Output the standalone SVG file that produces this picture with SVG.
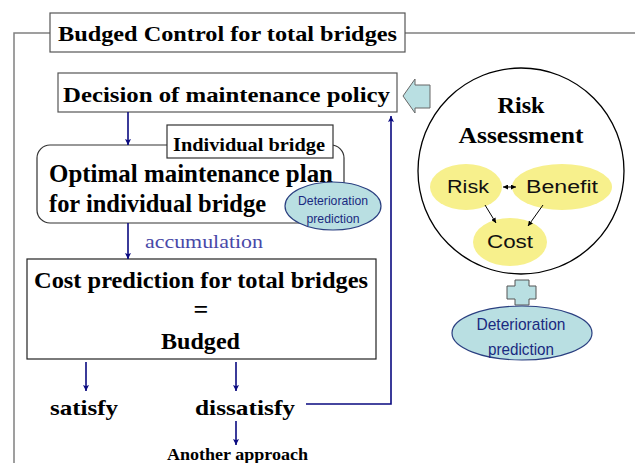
<svg xmlns="http://www.w3.org/2000/svg" width="635" height="463" viewBox="0 0 635 463">
<defs>
<style>
.sf{font-family:"Liberation Serif","DejaVu Serif",serif;font-weight:bold;fill:#000}
.ss{font-family:"Liberation Sans",Arial,sans-serif}
.box{fill:#fff;stroke:#555;stroke-width:1.2}
.nav{stroke:#0a0a80;stroke-width:1.6;fill:none}
.blk{stroke:#000;stroke-width:1;fill:none}
.yel{fill:#f7f08c;stroke:none}
.det{fill:#b9dfe2;stroke:#2a3f80;stroke-width:1.2}
</style>
<marker id="ah" viewBox="0 0 10 10" refX="10" refY="5" markerWidth="6" markerHeight="6" orient="auto" markerUnits="userSpaceOnUse">
<path d="M0,0 L10,5 L0,10 L2,5 z" fill="#0a0a80"/>
</marker>
<marker id="bh" viewBox="0 0 10 10" refX="10" refY="5" markerWidth="5" markerHeight="5" orient="auto-start-reverse" markerUnits="userSpaceOnUse">
<path d="M0,0 L10,5 L0,10 z" fill="#000"/>
</marker>
</defs>
<rect width="635" height="463" fill="#fff"/>

<g id="frame">
<path d="M14,463 L14,33 L50,33 M405,33 L635,33" stroke="#808080" stroke-width="1.5" fill="none"/>
</g>

<g id="title">
<rect class="box" x="50" y="13" width="355" height="39"/>
<text class="sf" x="58" y="41" font-size="22" textLength="339" lengthAdjust="spacingAndGlyphs">Budged Control for total bridges</text>
</g>

<g id="decision">
<rect class="box" x="58" y="73" width="339" height="39" stroke="#333"/>
<text class="sf" x="63" y="102" font-size="22" textLength="327" lengthAdjust="spacingAndGlyphs">Decision of maintenance policy</text>
</g>

<g id="optimal">
<rect x="37" y="145" width="307" height="78" rx="13" ry="13" fill="#fff" stroke="#333" stroke-width="1.2"/>
<text class="sf" x="49" y="182" font-size="25" textLength="284" lengthAdjust="spacingAndGlyphs">Optimal maintenance plan</text>
<text class="sf" x="49" y="212" font-size="25" textLength="217" lengthAdjust="spacingAndGlyphs">for individual bridge</text>
</g>

<g id="individual">
<rect x="167" y="125" width="166" height="33" fill="#fff" stroke="#333" stroke-width="1.2"/>
<text class="sf" x="173" y="151" font-size="19" textLength="152" lengthAdjust="spacingAndGlyphs">Individual bridge</text>
</g>

<g id="det-small">
<ellipse class="det" cx="333" cy="206" rx="48" ry="24"/>
<text class="ss" x="333" y="205" font-size="13" fill="#1a2a80" text-anchor="middle" textLength="70" lengthAdjust="spacingAndGlyphs">Deterioration</text>
<text class="ss" x="333" y="223" font-size="13" fill="#1a2a80" text-anchor="middle" textLength="53" lengthAdjust="spacingAndGlyphs">prediction</text>
</g>

<g id="accumulation">
<text x="145" y="248" font-family="Liberation Serif, serif" font-size="18" fill="#4848a8" textLength="118" lengthAdjust="spacingAndGlyphs">accumulation</text>
</g>

<g id="cost">
<rect x="27" y="259" width="349" height="100" fill="#fff" stroke="#222" stroke-width="1.2"/>
<text class="sf" x="34" y="288" font-size="23" textLength="334" lengthAdjust="spacingAndGlyphs">Cost prediction for total bridges</text>
<text class="sf" x="201" y="318" font-size="26" text-anchor="middle">=</text>
<text class="sf" x="161" y="349" font-size="24" textLength="79" lengthAdjust="spacingAndGlyphs">Budged</text>
</g>

<g id="satisfy">
<text class="sf" x="50" y="415" font-size="22" textLength="68" lengthAdjust="spacingAndGlyphs">satisfy</text>
</g>
<g id="dissatisfy">
<text class="sf" x="195" y="415" font-size="22" textLength="100" lengthAdjust="spacingAndGlyphs">dissatisfy</text>
</g>
<g id="another">
<text class="sf" x="167" y="460" font-size="16" textLength="141" lengthAdjust="spacingAndGlyphs">Another approach</text>
</g>

<g id="block-arrow">
<polygon points="403,96 415,79 415,85 430,85 430,108 415,108 415,113" fill="#b9dfe2" stroke="#666" stroke-width="1"/>
</g>

<g id="risk-assessment">
<circle cx="521" cy="171" r="103" fill="#fff" stroke="#000" stroke-width="1.3"/>
<text class="sf" x="521" y="113" font-size="23" text-anchor="middle" textLength="47" lengthAdjust="spacingAndGlyphs">Risk</text>
<text class="sf" x="521" y="143" font-size="23" text-anchor="middle" textLength="125" lengthAdjust="spacingAndGlyphs">Assessment</text>
</g>

<g id="risk">
<ellipse class="yel" cx="466" cy="187" rx="36" ry="23"/>
<text class="ss" x="468" y="193" font-size="18" fill="#111" text-anchor="middle" textLength="42" lengthAdjust="spacingAndGlyphs">Risk</text>
</g>
<g id="benefit">
<ellipse class="yel" cx="562" cy="187" rx="50" ry="23"/>
<text class="ss" x="562" y="193" font-size="18" fill="#111" text-anchor="middle" textLength="72" lengthAdjust="spacingAndGlyphs">Benefit</text>
</g>
<g id="cost-ell">
<ellipse class="yel" cx="510" cy="242" rx="37" ry="24"/>
<text class="ss" x="510" y="248" font-size="18" fill="#111" text-anchor="middle" textLength="46" lengthAdjust="spacingAndGlyphs">Cost</text>
</g>

<g id="plus">
<polygon points="515,280 529,280 529,286 536,286 536,299 529,299 529,305 515,305 515,299 507,299 507,286 515,286" fill="#b9dfe2" stroke="#555" stroke-width="1"/>
</g>

<g id="det-big">
<ellipse class="det" cx="522" cy="333" rx="70" ry="27"/>
<text class="ss" x="521" y="330" font-size="17" fill="#1a2a80" text-anchor="middle" textLength="89" lengthAdjust="spacingAndGlyphs">Deterioration</text>
<text class="ss" x="521" y="355" font-size="17" fill="#1a2a80" text-anchor="middle" textLength="66" lengthAdjust="spacingAndGlyphs">prediction</text>
</g>

<g id="connectors">
<line class="nav" x1="128" y1="112" x2="128" y2="145" marker-end="url(#ah)"/>
<line class="nav" x1="128" y1="223" x2="128" y2="259" marker-end="url(#ah)"/>
<line class="nav" x1="86" y1="362" x2="86" y2="391" marker-end="url(#ah)"/>
<line class="nav" x1="236" y1="362" x2="236" y2="391" marker-end="url(#ah)"/>
<line class="nav" x1="236" y1="421" x2="236" y2="445" marker-end="url(#ah)"/>
<polyline class="nav" points="306,404 391,404 391,116" marker-end="url(#ah)"/>
<line class="blk" x1="503" y1="187" x2="516" y2="187" marker-start="url(#bh)" marker-end="url(#bh)"/>
<line class="blk" x1="485" y1="205" x2="496" y2="223" marker-end="url(#bh)"/>
<line class="blk" x1="543" y1="205" x2="528" y2="226" marker-end="url(#bh)"/>
</g>
</svg>
